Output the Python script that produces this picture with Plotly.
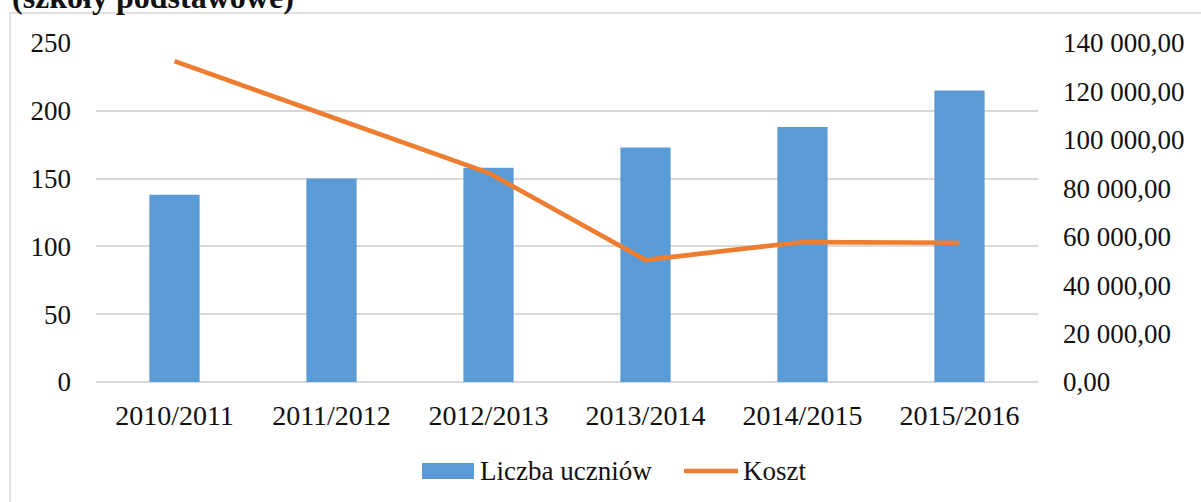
import plotly.graph_objects as go

categories = ["2010/2011", "2011/2012", "2012/2013", "2013/2014", "2014/2015", "2015/2016"]
students = [138, 150, 158, 173, 188, 215]
cost = [132500, 109500, 86400, 50400, 57800, 57500]
left_ticks = [0, 50, 100, 150, 200, 250]
right_ticks = [0, 20000, 40000, 60000, 80000, 100000, 120000, 140000]
right_ticktext = [f"{v:,.2f}".replace(",", " ").replace(".", ",") for v in right_ticks]

FONT = "Liberation Serif"
BLUE = "#5b9bd5"
ORANGE = "#ed7d31"
GRID = "#d9d9d9"

W, H = 1201, 502
ML, MR, MT, MB = 96, 163, 43, 120
PW, PH = W - ML - MR, H - MT - MB

def px(x):
    return (x - ML) / PW

def py(y):
    return (H - MB - y) / PH

fig = go.Figure()
fig.add_trace(go.Bar(x=categories, y=students, name="Liczba uczniów",
                     marker=dict(color=BLUE, line=dict(width=0)), yaxis="y"))
fig.add_trace(go.Scatter(x=categories, y=cost, name="Koszt", mode="lines",
                         line=dict(color=ORANGE, width=4.7), yaxis="y2"))

fig.update_layout(
    width=W, height=H,
    margin=dict(l=ML, r=MR, t=MT, b=MB),
    paper_bgcolor="white", plot_bgcolor="white",
    showlegend=False,
    bargap=0.68,
    font=dict(family=FONT, size=27, color="#111111"),
    xaxis=dict(showgrid=False, showline=False, ticks="", ticklabelstandoff=14,
               tickfont=dict(size=28)),
    yaxis=dict(range=[0, 250], tickvals=left_ticks, showgrid=True, gridcolor=GRID,
               gridwidth=1.5, zeroline=True, zerolinecolor=GRID, zerolinewidth=1.5,
               showline=False, ticks="", ticklabelstandoff=24),
    yaxis2=dict(range=[0, 140000], overlaying="y", side="right", tickvals=right_ticks,
                ticktext=right_ticktext, showgrid=False, zeroline=False, showline=False,
                ticks="", ticklabelstandoff=24),
    shapes=[
        dict(type="rect", xref="paper", yref="paper", x0=px(10), x1=px(1230),
             y0=py(530), y1=py(13), line=dict(color=GRID, width=1.5), fillcolor="rgba(0,0,0,0)", layer="below"),
        dict(type="rect", xref="paper", yref="paper", x0=px(422), x1=px(474),
             y0=py(479), y1=py(463), line=dict(width=0), fillcolor=BLUE),
        dict(type="line", xref="paper", yref="paper", x0=px(684), x1=px(738),
             y0=py(471), y1=py(471), line=dict(color=ORANGE, width=4.7)),
    ],
    annotations=[
        dict(text="<b>(szkoły podstawowe)</b>", xref="paper", yref="paper", x=px(10), y=py(17),
             xanchor="left", yanchor="bottom", showarrow=False, font=dict(size=32, family=FONT, color="#111111")),
        dict(text="Liczba uczniów", xref="paper", yref="paper", x=px(478), y=py(471),
             xanchor="left", yanchor="middle", showarrow=False, font=dict(size=27)),
        dict(text="Koszt", xref="paper", yref="paper", x=px(741), y=py(471),
             xanchor="left", yanchor="middle", showarrow=False, font=dict(size=27)),
    ],
)

fig.write_html("out.html", config={"displayModeBar": False},
               post_script="document.body.style.margin='0';document.body.style.overflow='hidden';")
